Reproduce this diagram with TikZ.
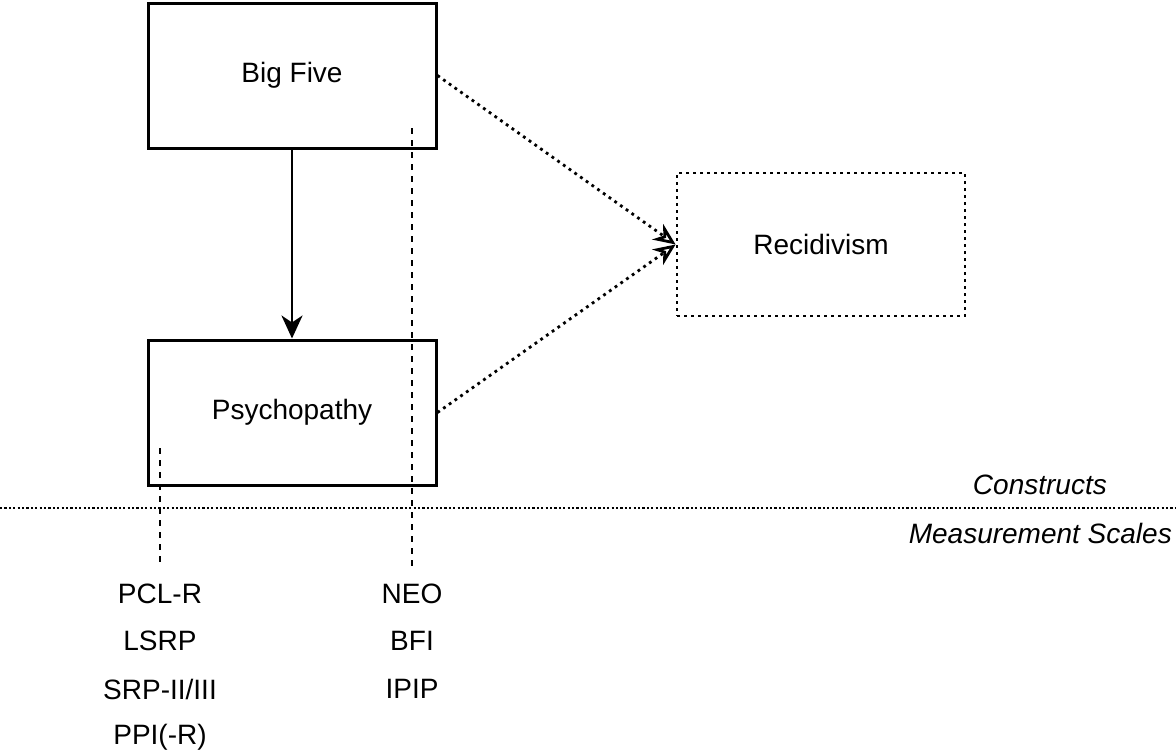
\documentclass[tikz,border=0pt]{standalone}
\usepackage{fontspec}
\setmainfont{Liberation Sans}
\usetikzlibrary{arrows.meta}
\begin{document}
\begin{tikzpicture}[x=1pt,y=-1pt,
  every node/.style={font=\fontsize{28}{34}\selectfont},
  construct/.style={draw, line width=3pt, minimum width=288pt, minimum height=145pt, inner sep=0pt},
  outcome/.style={draw, line width=2.8pt, dash pattern=on 2.8pt off 4.2pt, minimum width=288pt, minimum height=143pt, inner sep=0pt},
  scale label/.style={inner sep=0pt, anchor=center},
  causal/.style={line width=2.8pt, -{Stealth[length=23pt, width=21pt, inset=7pt]}},
  assoc/.style={line width=2.8pt, dash pattern=on 2.8pt off 4.2pt, -{Stealth[open, length=22pt, width=19pt, inset=7pt, line width=2.8pt]}},
  measure/.style={line width=2.8pt, dash pattern=on 6pt off 6pt},
  divider/.style={line width=2.2pt, dash pattern=on 2.2pt off 2.2pt}]
\useasboundingbox (0,0) rectangle (1176,753);

% constructs
\node[construct] (bf) at (292,75.5) {Big Five};
\node[construct] (ps) at (292,412.5) {Psychopathy};
\node[outcome] (rec) at (821,244.5) {Recidivism};

% paths between constructs
\draw[causal] (bf.south) -- (ps.north);
\draw[assoc] (bf.east) -- (rec.west);
\draw[assoc] (ps.east) -- (rec.west);

% divider between construct and measurement levels
\coordinate (divL) at (0,508);
\coordinate (divR) at (1176,508);
\draw[divider] (divL) -- (divR);
\node[inner sep=0pt, anchor=east] (lconstr) at (1107,485) {\itshape Constructs};
\node[inner sep=0pt, anchor=east] (lmeas) at (1172,533) {\itshape Measurement Scales};

% measurement links
\coordinate (bfTop) at (412,128);
\coordinate (bfBot) at (412,570);
\coordinate (psTop) at (160,448);
\coordinate (psBot) at (160,567);
\draw[measure] (bfTop) -- (bfBot);
\draw[measure] (psTop) -- (psBot);

% psychopathy scales
\node[scale label] (pclr) at (160,594) {PCL-R};
\node[scale label] (lsrp) at (160,641) {LSRP};
\node[scale label] (srp) at (160,689) {SRP-II/III};
\node[scale label] (ppi) at (160,737) {PPI(-R)};

% big five scales
\node[scale label] (neo) at (412,594) {NEO};
\node[scale label] (bfi) at (412,641) {BFI};
\node[scale label] (ipip) at (412,689) {IPIP};
\end{tikzpicture}
\end{document}
